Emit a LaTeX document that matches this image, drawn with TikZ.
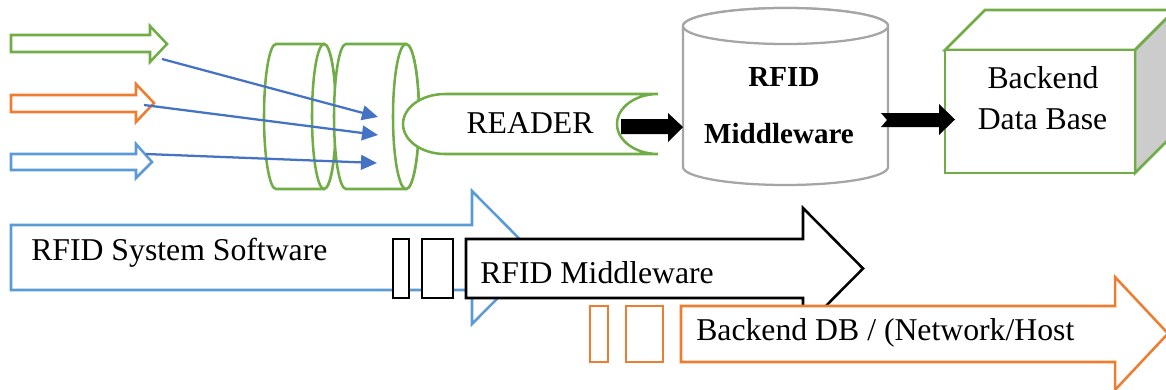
\documentclass[tikz,border=0pt]{standalone}
\usepackage{fontspec}
\setmainfont{Liberation Serif}
\usetikzlibrary{arrows.meta}
\definecolor{cgreen}{HTML}{70AD47}
\definecolor{corange}{HTML}{ED7D31}
\definecolor{clblue}{HTML}{5B9BD5}
\definecolor{cray}{HTML}{4472C4}
\definecolor{cgray}{HTML}{A5A5A5}
\definecolor{cside}{HTML}{CCCCCC}
\begin{document}
\begin{tikzpicture}[x=0.75pt,y=-0.75pt,line join=miter,
  greenshape/.style={draw=cgreen,line width=1.9pt,fill=white},
  orangeshape/.style={draw=corange,line width=1.9pt,fill=white},
  blueshape/.style={draw=clblue,line width=1.9pt,fill=white},
  blackshape/.style={draw=black,line width=1.9pt,fill=white},
  grayshape/.style={draw=cgray,line width=1.7pt,fill=white},
  solidarrow/.style={fill=black,draw=none},
  ray/.style={draw=cray,line width=1.7pt,-{Triangle[length=12pt,width=11pt]}},
  label/.style={font=\fontsize{23.8}{28}\selectfont,inner sep=0pt},
  boldlabel/.style={font=\fontsize{21.8}{26}\selectfont\bfseries,inner sep=0pt}]
\useasboundingbox (0,0) rectangle (1166,389);
\clip (0,0) rectangle (1166,389);

% incoming tag signals
\filldraw[greenshape] (11,35) -- (150,35) -- (150,26) -- (167,44) -- (150,62) -- (150,52) -- (11,52) -- cycle;
\filldraw[orangeshape] (11,95) -- (136,95) -- (136,84) -- (154,103) -- (136,122) -- (136,112) -- (11,112) -- cycle;
\filldraw[blueshape] (11,154) -- (136,154) -- (136,144) -- (152,162) -- (136,178) -- (136,170) -- (11,170) -- cycle;

% antenna discs
\filldraw[greenshape] (276,44) -- (324,44) arc[start angle=-90,end angle=90,x radius=12,y radius=72.5]
  -- (276,189) arc[start angle=90,end angle=270,x radius=12,y radius=72.5] -- cycle;
\draw[greenshape] (324,116.5) ellipse[x radius=12,y radius=72.5];
\filldraw[greenshape] (346,44) -- (406,44) arc[start angle=-90,end angle=90,x radius=13,y radius=72.5]
  -- (346,189) arc[start angle=90,end angle=270,x radius=12,y radius=72.5] -- cycle;
\draw[greenshape] (406,116.5) ellipse[x radius=13,y radius=72.5];

% reader body
\filldraw[greenshape] (445,94) -- (658,94) arc[start angle=-90,end angle=-270,x radius=41,y radius=30]
  -- (445,154) arc[start angle=90,end angle=270,x radius=42,y radius=30] -- cycle;
\node[label,anchor=base] (reader) at (530,133) {READER};

% signal rays into the reader
\coordinate (s1) at (162,59);  \coordinate (e1) at (378,117);
\coordinate (s2) at (144,105); \coordinate (e2) at (378,135);
\coordinate (s3) at (146,154); \coordinate (e3) at (377,163);
\draw[ray] (s1) -- (e1);
\draw[ray] (s2) -- (e2);
\draw[ray] (s3) -- (e3);

% middleware store
\filldraw[grayshape] (683,26) -- (683,167) arc[start angle=180,end angle=0,x radius=102.5,y radius=18]
  -- (888,26) arc[start angle=0,end angle=-180,x radius=102.5,y radius=18] -- cycle;
\draw[grayshape] (785.5,26) ellipse[x radius=102.5,y radius=18];
\node[boldlabel,anchor=base] (mwtop) at (784,86) {RFID};
\node[boldlabel,anchor=base] (mwbot) at (779,143) {Middleware};

% backend cube
\filldraw[greenshape] (945,50) -- (985,10) -- (1175,10) -- (1135,50) -- cycle;
\filldraw[greenshape,fill=cside] (1135,50) -- (1175,10) -- (1175,133) -- (1135,173) -- cycle;
\filldraw[greenshape] (945,50) rectangle (1135,173);
\node[label,anchor=base] (dbtop) at (1043,88) {Backend};
\node[label,anchor=base] (dbbot) at (1042.5,129) {Data Base};

% data flow arrows
\fill[solidarrow] (621,119) -- (668,119) -- (668,113) -- (683,127) -- (668,142) -- (668,134) -- (621,134) -- cycle;
\fill[solidarrow] (881,113) -- (939,113) -- (939,104) -- (955,119.5) -- (939,135) -- (939,127) -- (881,127) -- (887,120) -- cycle;

% software layers
\filldraw[blueshape] (11,225) -- (472,225) -- (472,191) -- (538,257.5) -- (472,324) -- (472,290) -- (11,290) -- cycle;
\node[label,anchor=base west] (sw) at (31,260) {RFID System Software};

\filldraw[blackshape] (393,239) rectangle (409,298);
\filldraw[blackshape] (422,239) rectangle (453,298);
\filldraw[blackshape] (466,239) -- (803,239) -- (803,208) -- (863,268.5) -- (803,329) -- (803,298) -- (466,298) -- cycle;
\node[label,anchor=base west] (mw) at (480,283) {RFID Middleware};

\filldraw[orangeshape] (590,306) rectangle (608,362);
\filldraw[orangeshape] (626,306) rectangle (663,362);
\filldraw[orangeshape] (681,306) -- (1115,306) -- (1115,277) -- (1168,333.5) -- (1115,390) -- (1115,362) -- (681,362) -- cycle;
\node[label,anchor=base west] (db) at (696,340) {Backend DB / (Network/Host};
\end{tikzpicture}
\end{document}
